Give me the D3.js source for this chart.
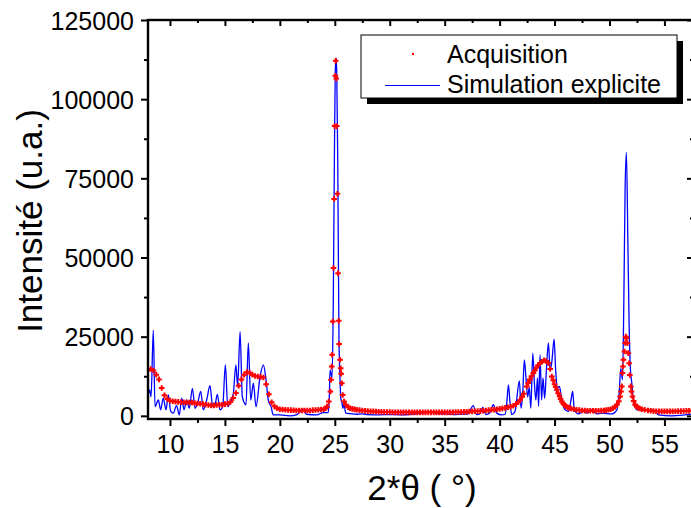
<!DOCTYPE html>
<html><head><meta charset="utf-8">
<script src="https://cdn.jsdelivr.net/npm/d3@7"></script>
<style>
html,body{margin:0;padding:0;background:#fff;}
svg{display:block;font-family:"Liberation Sans",Arial,sans-serif;}
</style></head>
<body><svg id="chart" width="691" height="508"></svg>
<script>
// ---- Data ----
const acqTheta = [
 8.0,8.25,8.5,8.75,9.0,9.25,9.5,9.75,10.0,10.25,10.5,10.75,11.0,11.25,11.5,11.75,12.0,12.25,12.5,12.75,13.0,13.25,13.5,13.75,14.0,14.25,14.5,14.75,15.0,15.25,15.5,15.75,16.0,16.25,16.5,16.75,17.0,17.25,17.5,17.75,18.0,18.25,18.5,18.75,19.0,19.25,19.5,19.75,
 20.0,20.25,20.5,20.75,21.0,21.25,21.5,21.75,22.0,22.25,22.5,22.75,23.0,23.25,23.5,23.75,
 24.0,24.15,24.3,24.45,24.6,24.66,24.72,24.76,24.82,24.88,24.94,24.98,25.05,25.08,25.13,25.18,25.24,25.30,25.36,25.40,25.48,25.54,25.58,25.64,25.72,25.84,26.0,26.23,26.4,26.6,26.8,
 27.0,27.25,27.5,27.75,28.0,28.25,28.5,28.75,29.0,29.25,29.5,29.75,
 30.0,30.25,30.5,30.75,31.0,31.25,31.5,31.75,32.0,32.25,32.5,32.75,
 33.0,33.25,33.5,33.75,34.0,34.25,34.5,34.75,35.0,35.25,35.5,35.75,
 36.0,36.25,36.5,36.75,37.0,37.25,37.5,37.75,38.0,38.25,38.5,38.75,
 39.0,39.25,39.5,39.75,40.0,40.25,40.5,40.75,41.0,41.25,41.5,
 41.7,41.86,42.05,42.2,42.47,42.6,42.75,42.9,43.08,43.2,43.35,43.5,43.68,43.85,44.05,44.25,44.44,44.6,44.75,44.88,45.0,45.1,45.2,45.33,45.45,45.55,45.66,45.78,45.9,46.05,46.2,46.35,46.5,46.75,
 47.0,47.25,47.5,47.75,48.0,48.25,48.5,48.75,49.0,49.25,49.5,49.7,49.9,50.1,50.3,50.5,50.67,50.85,50.97,51.05,51.12,51.18,51.22,51.27,51.36,51.43,51.49,51.55,51.63,51.72,51.79,51.85,51.94,52.0,52.09,52.2,52.33,52.45,52.6,52.75,52.94,
 53.2,53.5,53.75,54.0,54.25,54.5,54.75,55.0,55.25,55.5,55.75,56.0,56.25,56.5,56.75,57.0,57.25,57.5];
const acqIntensity = [
 14500,14800,14300,13000,11500,8800,6500,5300,4800,4600,4500,4400,4300,4300,4200,4200,4200,4000,3900,3800,3700,3500,3400,3300,3300,3400,3500,3500,3700,3900,4400,5600,7200,9500,11500,13000,13800,13600,13000,12600,12400,12300,12100,10000,6800,4300,3000,2400,
 2100,2000,1900,1850,1800,1750,1700,1700,1700,1700,1700,1700,1800,1850,1900,2000,
 2100,2400,2900,4500,7700,11400,15600,19300,29800,46700,68500,91500,107400,112100,106500,91500,70100,45000,30000,22700,17700,15000,13300,10300,6600,4500,3500,2700,2400,2200,2050,
 1900,1800,1700,1600,1500,1450,1400,1350,1300,1250,1200,1200,
 1200,1150,1100,1100,1100,1100,1100,1100,1100,1100,1100,1100,
 1100,1100,1100,1100,1100,1100,1100,1100,1100,1100,1100,1150,
 1200,1200,1200,1250,1300,1350,1400,1450,1500,1550,1600,1700,
 1800,1900,1950,2050,2200,2350,2500,2700,2900,3200,3700,
 4300,5000,6000,7000,9300,10400,11500,12500,13500,14300,15200,16000,16600,17100,17500,17300,16600,14800,12400,11200,10000,9100,8200,7100,6200,5300,4500,3900,3400,3000,2700,2500,2300,2100,
 1900,1800,1700,1650,1600,1600,1600,1600,1600,1650,1700,1800,1900,2100,2400,2900,3500,4600,6100,7700,9300,13500,15600,17700,20300,23000,25000,24500,22900,19800,16600,12900,9300,7700,6100,4700,3500,3000,2600,2300,2100,
 1900,1700,1600,1500,1450,1400,1400,1400,1400,1400,1420,1450,1480,1500,1520,1550,1580,1600];

const simTheta = [8.0,8.15,8.28,8.48,8.64,8.94,9.15,9.39,9.64,9.85,10.07,10.3,10.6,10.85,11.07,11.28,11.52,11.76,12.04,12.28,12.52,12.8,13.03,13.34,13.64,13.89,14.1,14.31,14.55,14.8,15.04,15.26,15.46,15.77,16.0,16.16,16.38,16.58,16.92,17.13,17.35,17.59,17.83,18.2,18.5,18.74,18.95,19.2,19.4,20.0,20.9,21.5,22.2,22.4,23.35,23.96,24.4,24.5,24.57,24.65,24.75,24.86,24.96,25.04,25.11,25.18,25.27,25.38,25.48,25.54,25.66,25.72,25.84,26.0,26.4,27.0,27.5,28.0,29.0,30.0,31.0,32.0,33.0,33.6,34.2,35.0,35.8,36.5,37.1,37.6,37.9,38.2,38.47,38.75,39.1,39.43,39.74,40.2,40.5,40.65,40.8,40.95,41.1,41.4,41.8,41.95,42.1,42.25,42.4,42.55,42.7,42.84,43.02,43.17,43.3,43.45,43.55,43.68,43.82,43.95,44.1,44.25,44.44,44.6,44.75,44.96,45.1,45.25,45.44,45.66,45.96,46.27,46.5,46.65,46.8,47.17,47.63,47.93,48.39,48.84,49.3,50.2,50.67,50.88,51.03,51.18,51.3,51.42,51.54,51.67,51.79,51.9,52.03,52.18,52.49,52.94,53.55,54.0,54.46,55.67,57.6];
const simIntensity = [6000,8200,6000,27000,2900,5000,1900,5600,1900,6600,1400,850,3200,300,5600,1900,5000,2400,8700,2400,4000,7700,1900,5000,9500,2900,3500,6800,1900,2900,16100,2900,4000,7200,16100,9300,26600,6100,3500,23000,5000,10300,2900,12400,16100,11400,5000,2900,300,300,0,300,2100,500,300,1000,1000,6000,14500,13500,12000,35000,80000,108000,113000,108000,80000,24000,11400,5600,4000,2400,3500,850,700,500,600,400,300,400,300,500,900,1200,800,600,400,500,600,3200,400,600,2700,400,900,3500,850,300,500,4000,9800,4000,400,1400,11000,2400,7000,17700,12000,6000,9000,2400,19800,10000,5000,12000,3000,19300,5000,12000,5500,14000,23000,14500,17000,24200,14500,8700,9300,5000,1900,1400,5000,7700,1900,600,1400,850,1900,600,850,600,1900,7200,15000,11400,34500,71400,83200,55600,28200,15000,10300,5000,1900,1900,1700,1900,300,0,600];

const xTickValues = [10,15,20,25,30,35,40,45,50,55];
const yTickValues = [0,25000,50000,75000,100000,125000];
const seriesNames = ["Acquisition","Simulation explicite"];
const xTitle = "2*θ ( °)";
const yTitle = "Intensité (u.a.)";

// ---- Layout ----
const svg = d3.select("#chart");
const L = 148, R = 693, T = 20, B = 419;
const x = d3.scaleLinear().domain([8, 57.6]).range([L, R]);
const y = d3.scaleLinear().domain([-1000, 125000]).range([B, T]);

svg.append("defs").append("clipPath").attr("id","clip")
  .append("rect").attr("x",L).attr("y",T).attr("width",R-L).attr("height",B-T);

const plot = svg.append("g").attr("clip-path","url(#clip)");

// simulation line
const simData = simTheta.map((t,i)=>[t, simIntensity[i]]);
plot.append("path").datum(simData)
  .attr("fill","none").attr("stroke","#0000ff").attr("stroke-width",1.3)
  .attr("d", d3.line().x(d=>x(d[0])).y(d=>y(d[1])).curve(d3.curveMonotoneX));

// acquisition markers
const acqData = acqTheta.map((t,i)=>[t, acqIntensity[i]]);
plot.append("g").selectAll("path").data(acqData).join("path")
  .attr("transform", d=>`translate(${x(d[0])},${y(d[1])})`)
  .attr("d","M-2.8,0H2.8M0,-2.8V2.8")
  .attr("stroke","#ff0000").attr("stroke-width",2).attr("fill","none");

// ---- Axes ----
const tickFont = "25px";
const minorX = d3.range(7.5, 58, 2.5).filter(v => v % 5 !== 0 && v >= 8);
const minorY = d3.range(12500, 125000, 25000);

const xAxisB = d3.axisBottom(x).tickValues(xTickValues).tickSize(7).tickPadding(6).tickFormat(d3.format("d"));
const gxb = svg.append("g").attr("transform",`translate(0,${B})`).call(xAxisB);
gxb.selectAll("text").style("font-size",tickFont).attr("fill","#000").attr("dy","0.85em");
gxb.append("g").call(d3.axisBottom(x).tickValues(minorX).tickSize(4).tickFormat(""));

const gxt = svg.append("g").attr("transform",`translate(0,${T})`)
  .call(d3.axisBottom(x).tickValues(xTickValues).tickSize(6).tickFormat(""));
gxt.append("g").call(d3.axisBottom(x).tickValues(minorX).tickSize(3).tickFormat(""));

const gyl = svg.append("g").attr("transform",`translate(${L},0)`)
  .call(d3.axisLeft(y).tickValues(yTickValues).tickSize(7).tickPadding(7).tickFormat(d3.format("d")));
gyl.selectAll("text").style("font-size",tickFont).attr("fill","#000").attr("dy","0.36em");
gyl.append("g").call(d3.axisLeft(y).tickValues(minorY).tickSize(4).tickFormat(""));

const gyr = svg.append("g").attr("transform",`translate(${R},0)`)
  .call(d3.axisLeft(y).tickValues(yTickValues).tickSize(6).tickFormat(""));
gyr.append("g").call(d3.axisLeft(y).tickValues(minorY).tickSize(3).tickFormat(""));

[gxb,gxt,gyl,gyr].forEach(g=>{
  g.selectAll(".domain").remove();
  g.selectAll("line").attr("stroke","#000").attr("stroke-width",2);
});
// frame
svg.append("rect").attr("x",L).attr("y",T).attr("width",R-L).attr("height",B-T)
  .attr("fill","none").attr("stroke","#000").attr("stroke-width",2.4);

// ---- Titles ----
svg.append("text").attr("x",422).attr("y",500).attr("text-anchor","middle")
  .style("font-size","35px").attr("fill","#000").text(xTitle);
svg.append("text").attr("transform","translate(42,221) rotate(-90)").attr("text-anchor","middle")
  .style("font-size","35px").attr("fill","#000").text(yTitle);

// ---- Legend ----
const lg = svg.append("g");
lg.append("rect").attr("x",367).attr("y",41).attr("width",316).attr("height",63).attr("fill","#000");
lg.append("rect").attr("x",361).attr("y",35).attr("width",316).attr("height",63)
  .attr("fill","#fff").attr("stroke","#000").attr("stroke-width",1);
lg.append("circle").attr("cx",413).attr("cy",54).attr("r",1.2).attr("fill","#ff0000");
lg.append("line").attr("x1",385).attr("x2",440).attr("y1",85.5).attr("y2",85.5)
  .attr("stroke","#0000ff").attr("stroke-width",1.2);
lg.append("text").attr("x",447).attr("y",63).style("font-size","25px").attr("fill","#000").text(seriesNames[0]);
lg.append("text").attr("x",447).attr("y",92.5).style("font-size","25px").attr("fill","#000").text(seriesNames[1]);
</script></body></html>
